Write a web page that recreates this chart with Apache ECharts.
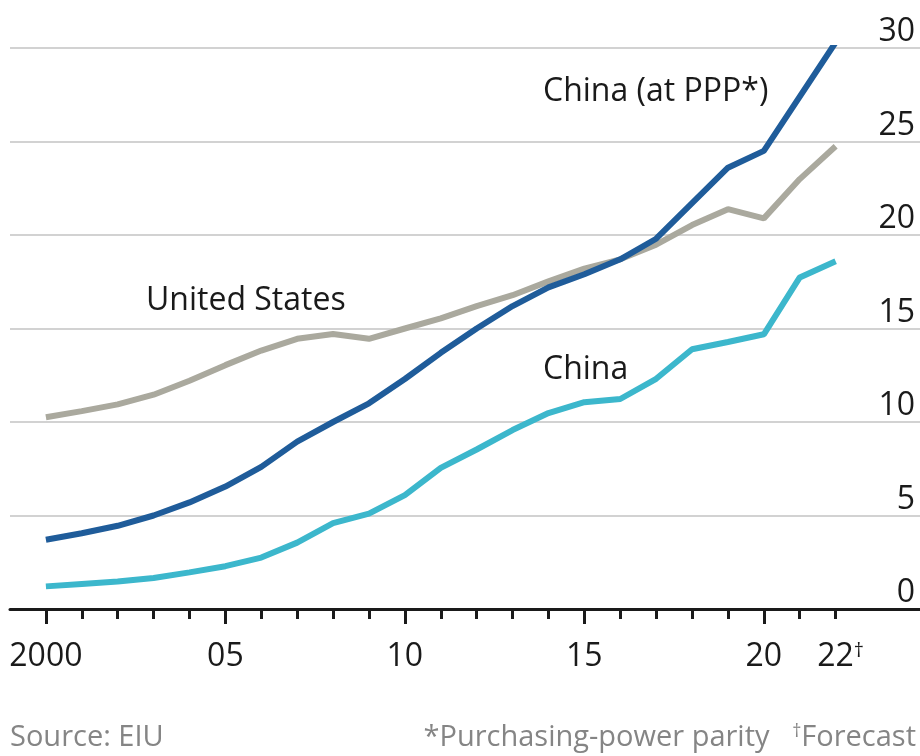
<!DOCTYPE html>
<html>
<head>
<meta charset="utf-8">
<script src="https://cdn.jsdelivr.net/npm/echarts@6/dist/echarts.min.js"></script>
<style>
  html, body { margin: 0; padding: 0; background: #fff; }
  #chart { width: 920px; height: 756px; }
</style>
</head>
<body>
<div id="chart"></div>
<script>
// 年份
const years = [2000, 2001, 2002, 2003, 2004, 2005, 2006, 2007, 2008, 2009, 2010, 2011,
  2012, 2013, 2014, 2015, 2016, 2017, 2018, 2019, 2020, 2021, 2022]
// GDP, $trn
const usGdp = [10.25, 10.58, 10.94, 11.46, 12.21, 13.04, 13.82, 14.45, 14.71, 14.45, 15.0, 15.54,
  16.2, 16.78, 17.52, 18.2, 18.7, 19.48, 20.53, 21.38, 20.89, 22.99, 24.75]
const chinaPpp = [3.7, 4.05, 4.45, 5.0, 5.7, 6.55, 7.6, 8.95, 10.0, 11.0, 12.3, 13.7,
  15.0, 16.2, 17.2, 17.9, 18.7, 19.8, 21.7, 23.6, 24.5, 27.4, 30.3]
const chinaGdp = [1.21, 1.34, 1.47, 1.66, 1.96, 2.29, 2.75, 3.55, 4.59, 5.1, 6.09, 7.55,
  8.53, 9.57, 10.48, 11.06, 11.23, 12.31, 13.89, 14.28, 14.69, 17.73, 18.6]
const yTicks = [0, 5, 10, 15, 20, 25, 30]
const majorYears = [2000, 2005, 2010, 2015, 2020]
const labelYears = [2000, 2005, 2010, 2015, 2020, 2022]

const FONT = '"Open Sans", "Noto Sans", sans-serif'
const INK = '#1a1a1a'
const GREY_TXT = '#858585'

const pairs = (vals) => years.map((y, i) => [y, vals[i]])

const chart = echarts.init(document.getElementById('chart'))

const baseX = {
  type: 'value',
  position: 'bottom',
  min: 1999,
  max: 2024.35,
  splitLine: { show: false },
}

const option = {
  animation: false,
  grid: { left: 10, right: 0, top: 48, bottom: 147 },
  xAxis: [
    {
      ...baseX,
      axisLine: { show: true, lineStyle: { color: INK, width: 3 } },
      axisTick: {
        show: true,
        customValues: majorYears,
        length: 15,
        lineStyle: { color: INK, width: 3 },
      },
      axisLabel: {
        show: true,
        customValues: labelYears,
        margin: 32,
        fontFamily: FONT,
        fontSize: 32,
        color: INK,
        formatter: (v) => {
          if (v === 2000) return '2000'
          const s = String(v).slice(2)
          if (v === 2022) return '{pad|}' + s + '{dag|†}'
          return s
        },
        rich: {
          pad: { width: 10 },
          dag: { fontSize: 20, verticalAlign: 'top', fontFamily: FONT, color: INK },
        },
      },
    },
    {
      ...baseX,
      axisLine: { show: false },
      axisTick: {
        show: true,
        customValues: years,
        length: 10,
        lineStyle: { color: INK, width: 3 },
      },
      axisLabel: { show: false },
    },
  ],
  yAxis: {
    type: 'value',
    position: 'right',
    min: 0,
    max: 30,
    interval: 5,
    axisLine: { show: false },
    axisTick: { show: false },
    splitLine: { show: true, lineStyle: { color: '#d2d2d2', width: 2 } },
    axisLabel: {
      inside: true,
      margin: 5,
      verticalAlign: 'bottom',
      fontFamily: FONT,
      fontSize: 32,
      color: INK,
      formatter: (v) => (yTicks.includes(v) ? String(v) : ''),
    },
  },
  series: [
    {
      name: 'United States',
      type: 'line',
      data: pairs(usGdp),
      showSymbol: false,
      lineStyle: { color: '#aaa99e', width: 6 },
      z: 2,
    },
    {
      name: 'China',
      type: 'line',
      data: pairs(chinaGdp),
      showSymbol: false,
      lineStyle: { color: '#3cb7cc', width: 6 },
      z: 3,
    },
    {
      name: 'China (at PPP*)',
      type: 'line',
      data: pairs(chinaPpp),
      showSymbol: false,
      lineStyle: { color: '#1f5c9a', width: 6 },
      z: 4,
    },
  ],
  graphic: [
    {
      type: 'text', left: 543, top: 76,
      style: { text: 'China (at PPP*)', fontFamily: FONT, fontSize: 32, fill: INK },
    },
    {
      type: 'text', left: 146, top: 285,
      style: { text: 'United States', fontFamily: FONT, fontSize: 32, fill: INK },
    },
    {
      type: 'text', left: 543, top: 354,
      style: { text: 'China', fontFamily: FONT, fontSize: 32, fill: INK },
    },
    {
      type: 'text', left: 10, top: 723,
      style: { text: 'Source: EIU', fontFamily: FONT, fontSize: 29, fill: GREY_TXT },
    },
    {
      type: 'text', right: 4, top: 723,
      style: {
        text: '*Purchasing-power parity   {d|†}Forecast',
        fontFamily: FONT, fontSize: 29, fill: GREY_TXT,
        rich: { d: { fontSize: 18, verticalAlign: 'top', fill: GREY_TXT, fontFamily: FONT } },
      },
    },
  ],
}

chart.setOption(option)
</script>
</body>
</html>
